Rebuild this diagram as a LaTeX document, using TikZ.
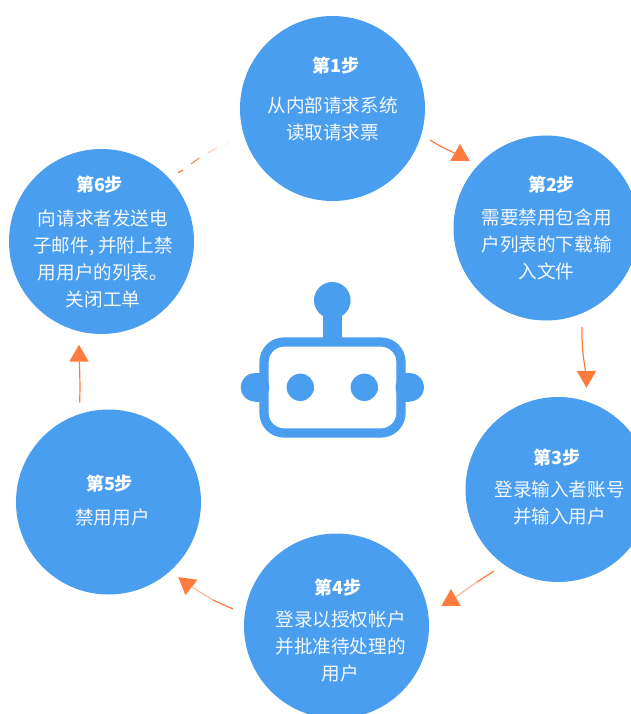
\documentclass[tikz,border=0pt]{standalone}
\usepackage{fontspec}
\usetikzlibrary{shapes.geometric}
\newfontfamily\cjkfont{Noto Sans CJK SC}

\definecolor{stepblue}{RGB}{74,158,240}
\definecolor{floworange}{RGB}{255,122,61}

\tikzset{
    stepcircle/.style={circle, fill=stepblue, minimum size=185pt, inner sep=0pt},
    steptitle/.style={text=white, font=\cjkfont\bfseries\fontsize{18}{18}\selectfont},
    stepbody/.style={text=white!94!stepblue, align=center, inner sep=0pt, font=\cjkfont\fontsize{18.6}{27}\selectfont},
    flowhead/.style={regular polygon, regular polygon sides=3, fill=floworange, minimum size=22.5pt, inner sep=0pt},
    flowline/.style={draw=floworange, line width=1.2pt},
    flowfade/.style={draw=floworange!55, line width=1.2pt}
}

\begin{document}
\begin{tikzpicture}[x=1pt,y=-1pt]

    \clip (0, 0) rectangle (631, 714);
    \fill[white] (0, 0) rectangle (631, 714);

    % Steps
    \node[stepcircle] (step1) at (332.5, 108.5) {};
    \node[stepcircle] (step2) at (546, 228) {};
    \node[stepcircle] (step3) at (558, 489.5) {};
    \node[stepcircle] (step4) at (336.5, 626) {};
    \node[stepcircle] (step5) at (108.5, 502) {};
    \node[stepcircle] (step6) at (101.5, 241.5) {};

    % Texts
    \node[steptitle] (title1) at (336, 66) {第1步};
    \node[stepbody] (body1) at (332.5, 118.5) {从内部请求系统\\读取请求票};
    \node[steptitle] (title2) at (551.5, 185) {第2步};
    \node[stepbody] (body2) at (546.5, 244.5) {需要禁用包含用\\户列表的下载输\\入文件};
    \node[steptitle] (title3) at (557, 458) {第3步};
    \node[stepbody] (body3) at (559.5, 502.5) {登录输入者账号\\并输入用户};
    \node[steptitle] (title4) at (338, 588) {第4步};
    \node[stepbody] (body4) at (340.5, 646.5) {登录以授权帐户\\并批准待处理的\\用户};
    \node[steptitle] (title5) at (109.5, 484) {第5步};
    \node[stepbody] (body5) at (112.5, 517) {禁用用户};
    \node[steptitle] (title6) at (99.5, 185) {第6步};
    \node[stepbody] (body6) at (103, 258.5) {向请求者发送电\\子邮件, 并附上禁\\用用户的列表。\\关闭工单};

    % Robot
    \fill[stepblue] (332.3, 300.3) circle (18.3);
    \fill[stepblue] (323.3, 310) rectangle (341.7, 342);
    \draw[stepblue, line width=9.2pt, rounded corners=20pt] (264, 342) rectangle (401, 433);
    \fill[stepblue] (255, 387.3) circle (14.2);
    \fill[stepblue] (255, 373.1) rectangle (262, 401.5);
    \fill[stepblue] (409.7, 387.3) circle (14.2);
    \fill[stepblue] (403, 373.1) rectangle (409.7, 401.5);
    \fill[stepblue] (300.3, 387.3) circle (13.7);
    \fill[stepblue] (364.3, 387.3) circle (13.7);

    % Arrow heads
    \node[flowhead] (head1) at (460, 155.3) {};
    \node[flowhead, shape border rotate=180] (head2) at (586.5, 376.5) {};
    \node[flowhead] (head3) at (451, 600.3) {};
    \node[flowhead, shape border rotate=52] (head4) at (187, 584) {};
    \node[flowhead] (head5) at (79, 356) {};

    % Arrow tails
    \coordinate (tail1) at (430, 140);
    \coordinate (tail2) at (582, 327);
    \coordinate (tail3) at (494, 571);
    \coordinate (tail4) at (233, 609);
    \coordinate (tail5) at (79.7, 402.5);
    \coordinate (fade3) at (477, 582);
    \coordinate (fade4) at (213, 600);

    \draw[flowline] (tail1) to[bend right=4] (head1);
    \draw[flowline] (tail2) to[bend right=5] (head2);
    \draw[flowfade] (fade3) -- (head3);
    \draw[flowline] (tail3) -- (fade3);
    \draw[flowfade] (fade4) -- (head4);
    \draw[flowline] (tail4) -- (fade4);
    \draw[flowline] (tail5) to[bend right=2] (head5);

    % Fading dashes
    \coordinate (dash1a) at (178, 172.7);
    \coordinate (dash1b) at (183, 170);
    \coordinate (dash2a) at (191, 164);
    \coordinate (dash2b) at (199.3, 158);
    \coordinate (dash3a) at (207.7, 153);
    \coordinate (dash3b) at (216.7, 148);
    \coordinate (dash4a) at (225, 145);
    \coordinate (dash4b) at (229, 142.7);
    \draw[flowline] (dash1a) -- (dash1b);
    \draw[flowline, draw opacity=0.8] (dash2a) -- (dash2b);
    \draw[flowline, draw opacity=0.35] (dash3a) -- (dash3b);
    \draw[flowline, draw opacity=0.1] (dash4a) -- (dash4b);

\end{tikzpicture}
\end{document}
